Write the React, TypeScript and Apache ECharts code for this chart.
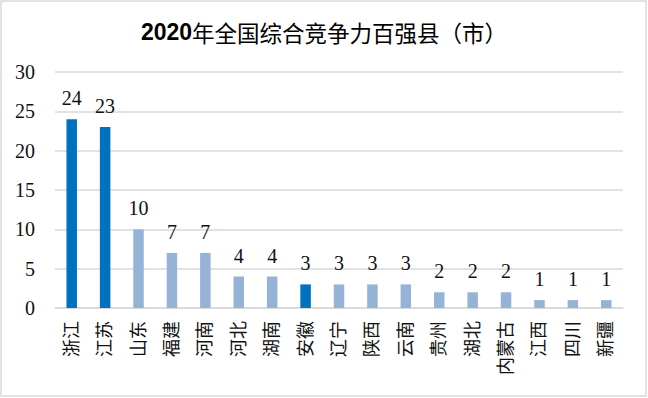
import React, { useEffect, useRef } from "react";
import * as echarts from "echarts";

const titleYear = "2020";
const titleRest = "年全国综合竞争力百强县（市）";
const provinces = ["浙江", "江苏", "山东", "福建", "河南", "河北", "湖南", "安徽", "辽宁", "陕西", "云南", "贵州", "湖北", "内蒙古", "江西", "四川", "新疆"];
const counts = [24, 23, 10, 7, 7, 4, 4, 3, 3, 3, 3, 2, 2, 2, 1, 1, 1];
const highlighted = ["浙江", "江苏", "安徽"];
const yTicks = { min: 0, max: 30, interval: 5 };

const DARK = "#0070C0";
const LIGHT = "#95B3D7";
const GRID = "#D9D9D9";

export default function App() {
  const ref = useRef<HTMLDivElement>(null);
  useEffect(() => {
    if (!ref.current) return;
    const chart = echarts.init(ref.current, undefined, { renderer: "svg" });
    chart.setOption({
      animation: false,
      backgroundColor: "#fff",
      title: {
        text: `{a|${titleYear}}{b|${titleRest}}`,
        left: "center",
        top: 15,
        textStyle: {
          rich: {
            a: { fontFamily: "Liberation Sans", fontWeight: "bold", fontSize: 23, color: "#000" },
            b: { fontFamily: "Noto Sans CJK SC", fontWeight: "normal", fontSize: 22.5, color: "#000" },
          },
        },
      },
      graphic: [
        {
          type: "rect",
          shape: { x: 1, y: 1, width: 645, height: 395 },
          style: { fill: "none", stroke: "#D9D9D9", lineWidth: 1.5 },
          silent: true,
        },
      ],
      grid: { left: 55, right: 25, top: 72, bottom: 90 },
      xAxis: {
        type: "category",
        data: provinces,
        axisLine: { lineStyle: { color: GRID, width: 1.5 } },
        axisTick: { show: false },
        axisLabel: {
          rotate: 90,
          interval: 0,
          margin: 13,
          fontSize: 18,
          color: "#111",
          fontFamily: "Liberation Serif, Noto Sans CJK SC",
        },
      },
      yAxis: {
        type: "value",
        min: yTicks.min,
        max: yTicks.max,
        interval: yTicks.interval,
        axisLine: { show: false },
        axisTick: { show: false },
        splitLine: { lineStyle: { color: GRID, width: 1.5 } },
        axisLabel: { fontSize: 20, color: "#111", margin: 20, fontFamily: "Liberation Serif" },
      },
      series: [
        {
          type: "bar",
          barWidth: 10.5,
          data: counts.map((v, i) => ({
            value: v,
            itemStyle: { color: highlighted.includes(provinces[i]) ? DARK : LIGHT },
          })),
          label: {
            show: true,
            position: "top",
            distance: 11,
            fontSize: 20,
            color: "#111",
            fontFamily: "Liberation Serif",
          },
        },
      ],
    });
    return () => chart.dispose();
  }, []);
  return <div ref={ref} style={{ position: "fixed", left: 0, top: 0, width: 648, height: 398 }} />;
}
